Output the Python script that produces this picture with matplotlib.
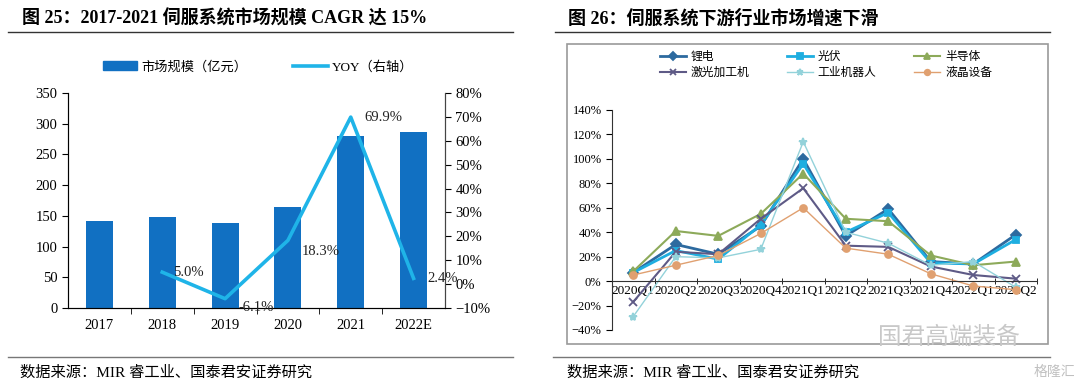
import matplotlib.pyplot as plt
from matplotlib.lines import Line2D
from matplotlib.patches import Rectangle
from matplotlib.ticker import PercentFormatter

plt.rcParams['font.family'] = ['Liberation Serif', 'Noto Sans CJK SC']

W, H = 1080, 387

# left chart data
years = ["2017", "2018", "2019", "2020", "2021", "2022E"]
market = [141, 148, 139, 165, 280, 287]
yoy = [None, 0.050, -0.061, 0.183, 0.699, 0.024]
yoy_labels = ["", "5.0%", "-6.1%", "18.3%", "69.9%", "2.4%"]

# right chart data
quarters = ["2020Q1", "2020Q2", "2020Q3", "2020Q4", "2021Q1",
            "2021Q2", "2021Q3", "2021Q4", "2022Q1", "2022Q2"]
lithium = [0.07, 0.30, 0.22, 0.45, 1.00, 0.37, 0.59, 0.16, 0.14, 0.38]
pv = [0.07, 0.25, 0.18, 0.46, 0.96, 0.40, 0.56, 0.15, 0.14, 0.34]
semi = [0.08, 0.41, 0.37, 0.55, 0.88, 0.51, 0.49, 0.21, 0.13, 0.16]
laser = [-0.17, 0.24, 0.22, 0.51, 0.76, 0.29, 0.28, 0.12, 0.05, 0.02]
robot = [-0.29, 0.20, 0.19, 0.26, 1.14, 0.40, 0.31, 0.13, 0.16, -0.05]
lcd = [0.05, 0.13, 0.21, 0.39, 0.60, 0.27, 0.22, 0.06, -0.04, -0.07]


def box(x0, y0, x1, y1):
    return [x0 / W, 1 - y1 / H, (x1 - x0) / W, (y1 - y0) / H]


def hline(fig, x0, x1, y, color="#333333", lw=1.0):
    fig.add_artist(Line2D([x0 / W, x1 / W], [1 - y / H, 1 - y / H],
                          color=color, lw=lw))


fig = plt.figure(figsize=(W / 100, H / 100), dpi=100)

# titles and rules
fig.text(22 / W, 1 - 18 / H, "图 25：2017-2021 伺服系统市场规模 CAGR 达 15%",
         fontsize=13, fontweight="bold", va="center", ha="left")
fig.text(568 / W, 1 - 18 / H, "图 26：伺服系统下游行业市场增速下滑",
         fontsize=13, fontweight="bold", va="center", ha="left")
hline(fig, 8, 513, 32)
hline(fig, 555, 1050, 32)
hline(fig, 8, 513, 357, color="#777777")
hline(fig, 553, 1050, 357, color="#777777")
fig.text(20 / W, 1 - 373 / H, "数据来源：MIR 睿工业、国泰君安证券研究",
         fontsize=11, va="center", ha="left")
fig.text(567 / W, 1 - 373 / H, "数据来源：MIR 睿工业、国泰君安证券研究",
         fontsize=11, va="center", ha="left")

# ---- left chart ----
ax = fig.add_axes(box(68, 93, 445, 308))
xs = list(range(len(years)))
ax.bar(xs, market, width=0.43, color="#1170C2", zorder=2)
ax.set_xlim(-0.5, len(years) - 0.5)
ax.set_ylim(0, 350)
ax.set_yticks(range(0, 351, 50))
ax.set_xticks(xs)
ax.set_xticklabels(years)
ax.set_xticks([i + 0.5 for i in xs[:-1]], minor=True)
ax.tick_params(axis="x", which="major", length=0, pad=8, labelsize=10.5)
ax.tick_params(axis="x", which="minor", length=4, direction="out")
ax.tick_params(axis="y", labelsize=10.5, length=4, direction="out")
ax.spines["top"].set_visible(False)
for s in ["left", "bottom", "right"]:
    ax.spines[s].set_color("#444444")

ax2 = ax.twinx()
ax2.plot(xs[1:], yoy[1:], color="#1FB4E8", lw=2.6, zorder=3)
ax2.set_ylim(-0.1, 0.8)
ax2.set_yticks([i / 10 for i in range(-1, 9)])
ax2.yaxis.set_major_formatter(PercentFormatter(1.0, decimals=0))
ax2.tick_params(axis="y", labelsize=10.5, length=4, direction="out")
ax2.spines["top"].set_visible(False)
ax2.spines["right"].set_color("#444444")
offsets = [None, (8, 0), (10, -6), (10, -8), (10, 0), (10, 0)]
for i in xs[1:]:
    ax2.annotate(yoy_labels[i], (xs[i], yoy[i]), xytext=offsets[i],
                 textcoords="offset points", fontsize=10.5, ha="left",
                 va="center", color="#222222", zorder=4)

handles = [Rectangle((0, 0), 1, 1, color="#1170C2"),
           Line2D([], [], color="#1FB4E8", lw=2.6)]
fig.legend(handles, ["市场规模（亿元）", "YOY（右轴）"],
           loc="center", bbox_to_anchor=(258 / W, 1 - 67 / H), ncol=2,
           frameon=False, fontsize=9.5, handlelength=2.6, columnspacing=3.5,
           handletextpad=0.3)

# ---- right chart ----
fig.add_artist(Rectangle((567 / W, 1 - 344 / H), (1048 - 567) / W,
                         (344 - 44) / H, fill=False, ec="#9a9a9a", lw=1.2))
bx = fig.add_axes(box(612, 110, 1037, 330))
qx = list(range(len(quarters)))
series = [
    ("锂电", lithium, "#2D6A9F", "D", 2.0, 5),
    ("光伏", pv, "#1EAEE0", "s", 2.0, 5),
    ("半导体", semi, "#8DAA5A", "^", 1.5, 6),
    ("激光加工机", laser, "#5E5A86", "x", 1.5, 6),
    ("工业机器人", robot, "#93D2DA", "*", 1.0, 6),
    ("液晶设备", lcd, "#E0A070", "o", 1.0, 5),
]
lines = {}
for name, vals, col, mk, lw, ms in series:
    ln, = bx.plot(qx, vals, color=col, marker=mk, lw=lw, ms=ms,
                  label=name, mew=1.3)
    lines[name] = ln
bx.set_xlim(-0.5, len(quarters) - 0.5)
bx.set_ylim(-0.4, 1.4)
bx.set_yticks([i / 10 for i in range(-4, 15, 2)])
bx.yaxis.set_major_formatter(PercentFormatter(1.0, decimals=0))
bx.spines["bottom"].set_position(("data", 0))
bx.spines["top"].set_visible(False)
bx.spines["right"].set_visible(False)
bx.spines["left"].set_color("#333333")
bx.spines["bottom"].set_color("#333333")
bx.set_xticks(qx)
bx.set_xticklabels(quarters)
bx.set_xticks([i + 0.5 for i in qx[:-1]] + [-0.5, len(quarters) - 0.5], minor=True)
bx.tick_params(axis="x", which="major", length=0, pad=3, labelsize=9.5)
bx.tick_params(axis="x", which="minor", length=4, direction="inout")
bx.tick_params(axis="y", labelsize=9, length=4, direction="out")

# legend filled column by column, so order gives rows 锂电/光伏/半导体 then the rest
order = ["锂电", "激光加工机", "光伏", "工业机器人", "半导体", "液晶设备"]
fig.legend([lines[n] for n in order], order, loc="center",
           bbox_to_anchor=(826 / W, 1 - 65 / H), ncol=3, frameon=False,
           fontsize=8.5, handlelength=2.2, columnspacing=3.2,
           handletextpad=0.4, labelspacing=0.3, markerscale=0.8)

# watermark
fig.text(1020 / W, 1 - 337 / H, "国君高端装备", fontsize=17, color="#c8c8c8",
         ha="right", va="center", family=["Noto Sans CJK SC"])
fig.text(1075 / W, 1 - 372 / H, "格隆汇", fontsize=10, color="#c0c0c0",
         ha="right", va="center", family=["Noto Sans CJK SC"])

fig.savefig("out.png", dpi=100)
